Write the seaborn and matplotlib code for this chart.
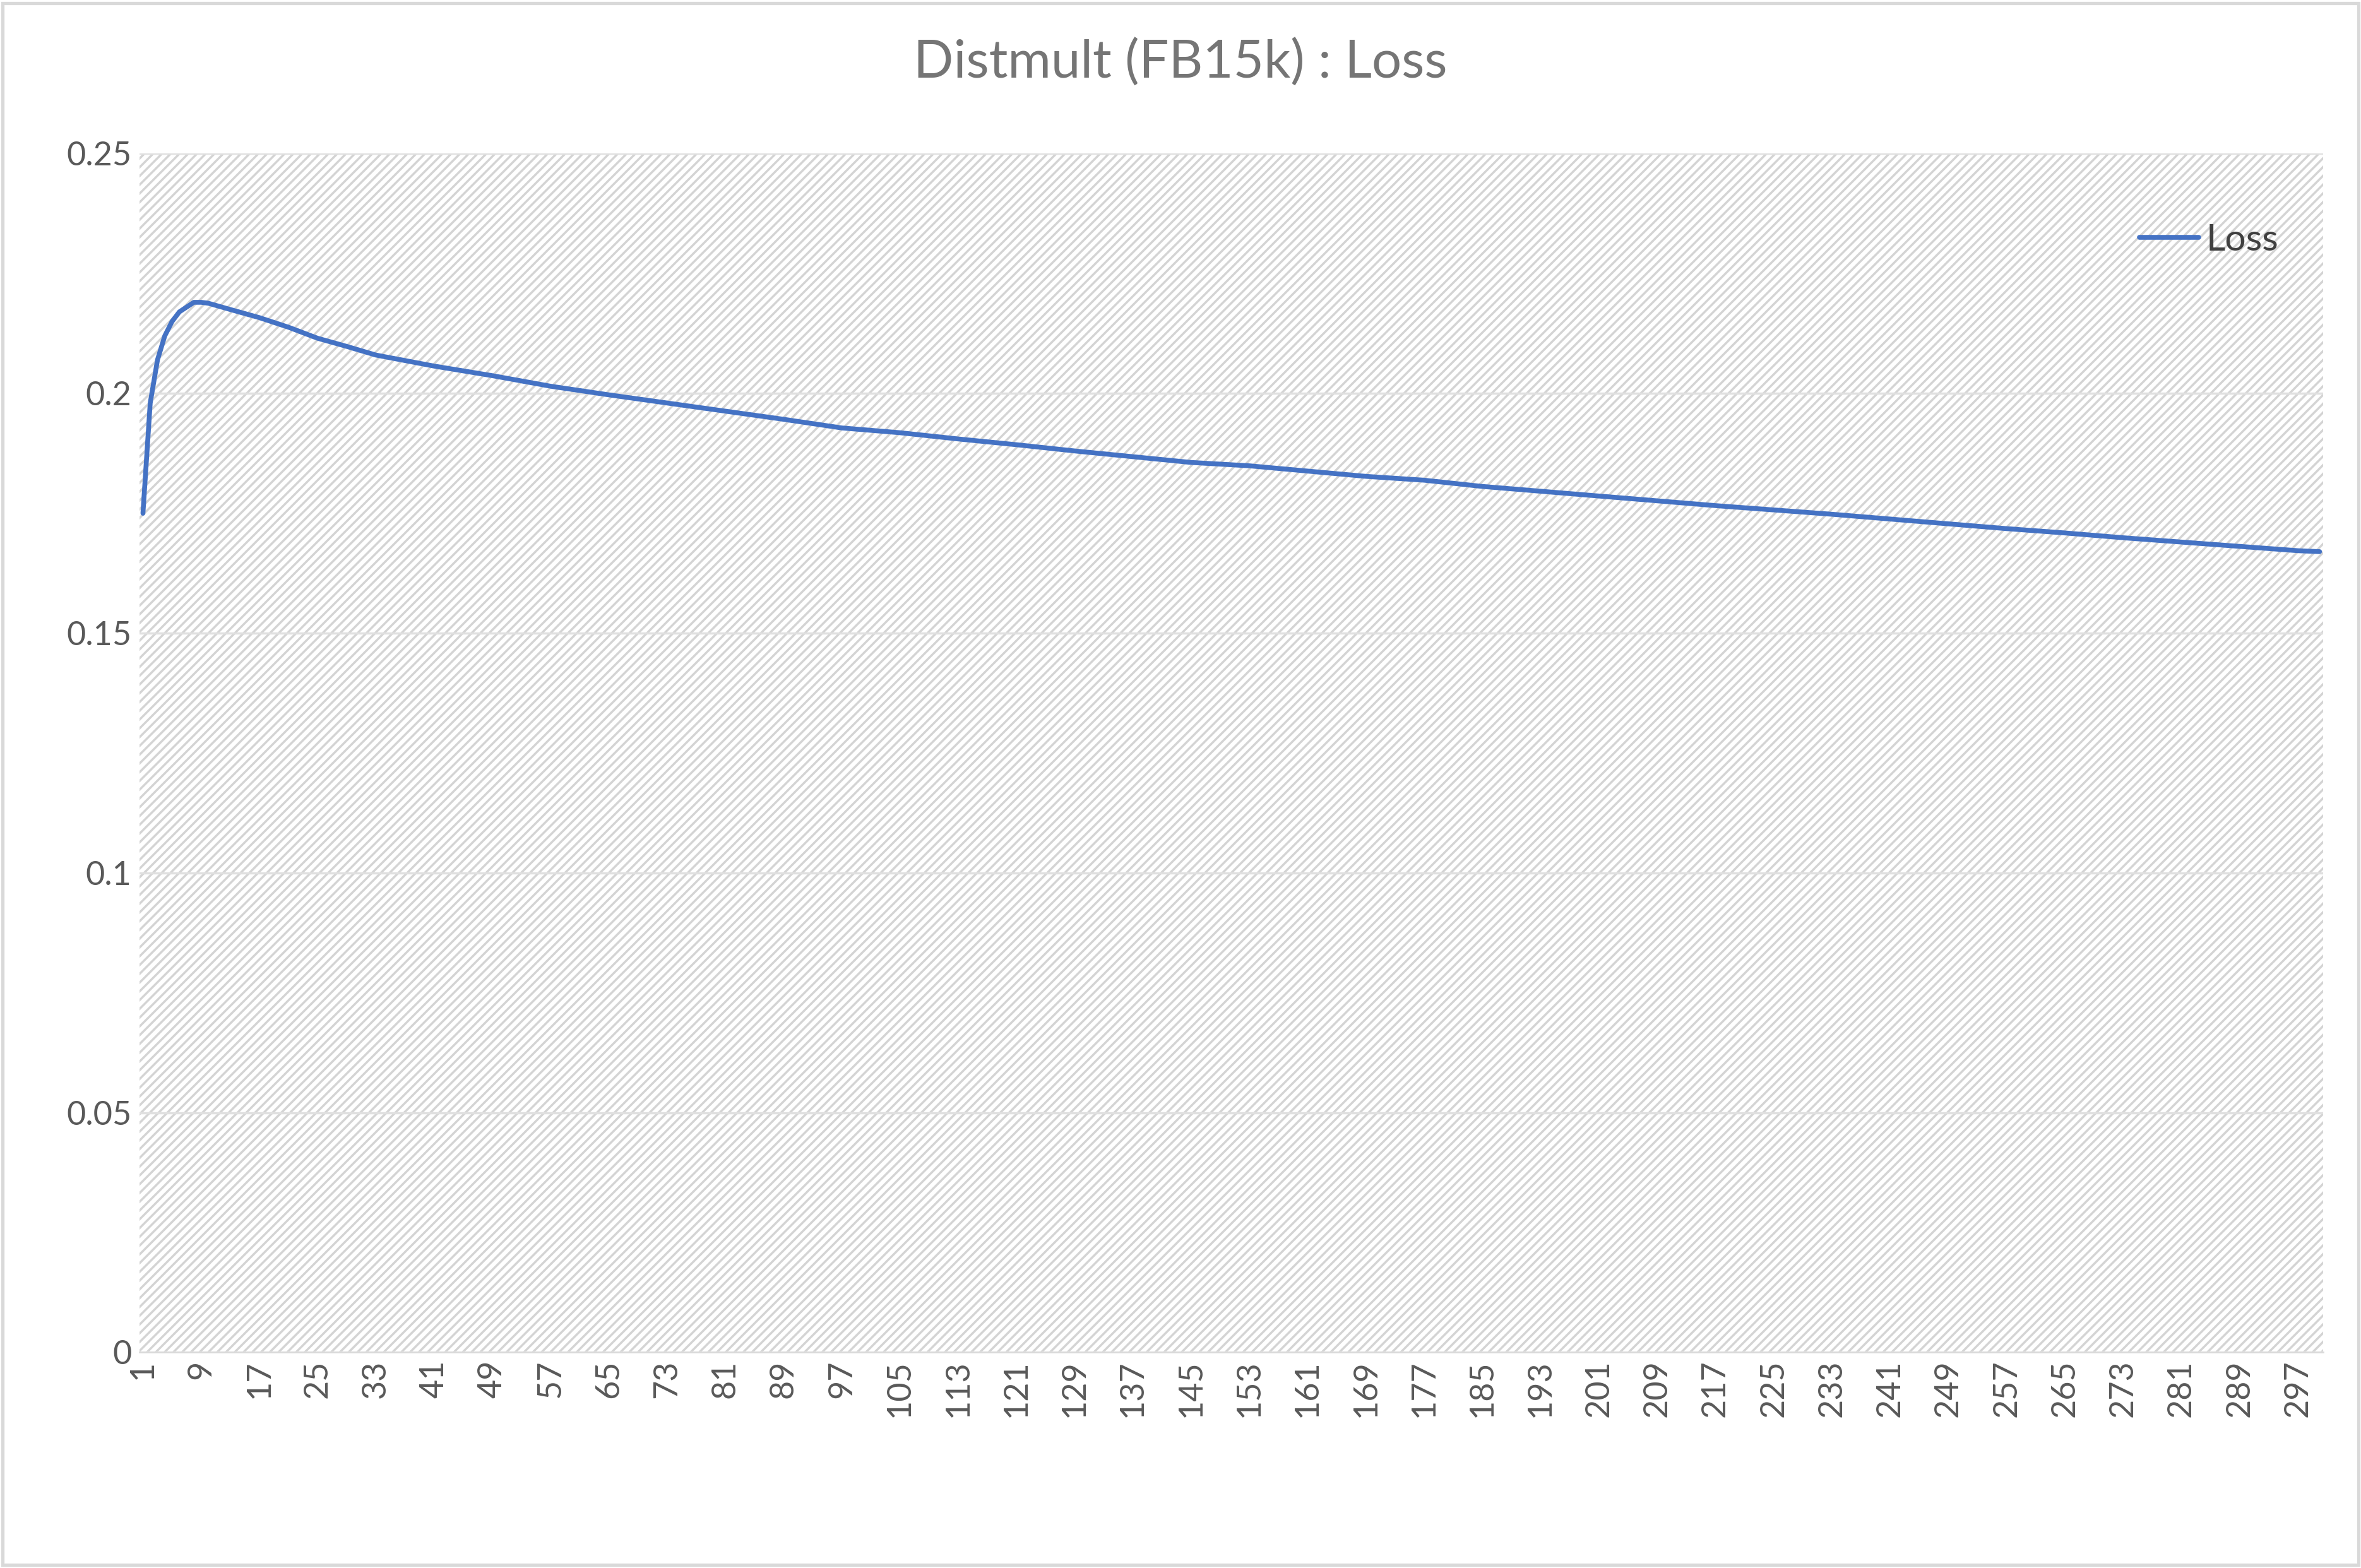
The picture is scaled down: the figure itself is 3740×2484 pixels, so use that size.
import pandas as pd
import matplotlib.pyplot as plt
import seaborn as sns
from matplotlib.patches import Rectangle

epochs = [1, 2, 3, 4, 5, 6, 7, 8, 9, 10, 13, 17, 21, 25, 29, 33, 41, 49, 57, 65, 73, 81,
          89, 97, 105, 113, 121, 129, 137, 145, 153, 161, 169, 177, 185, 193, 201,
          209, 217, 225, 233, 241, 249, 257, 265, 273, 281, 289, 297, 300]
loss = [0.175, 0.198, 0.207, 0.212, 0.215, 0.217, 0.218, 0.219, 0.219, 0.2188, 0.2175,
        0.2158, 0.2138, 0.2115, 0.2098, 0.2080, 0.2057, 0.2037, 0.2015, 0.1997, 0.1980,
        0.1963, 0.1946, 0.1928, 0.1918, 0.1905, 0.1893, 0.1880, 0.1868, 0.1856, 0.1849,
        0.1838, 0.1827, 0.1819, 0.1806, 0.1796, 0.1786, 0.1776, 0.1766, 0.1757, 0.1748,
        0.1738, 0.1728, 0.1718, 0.1709, 0.1699, 0.1690, 0.1681, 0.1672, 0.1670]
tick_epochs = list(range(1, 298, 8))

df = pd.DataFrame({'Epoch': epochs, 'Loss': loss})

sns.set_style('white')
plt.rcParams['font.family'] = ['Lato', 'DejaVu Sans']

fig = plt.figure(figsize=(14.96, 9.936), dpi=250)
ax = fig.add_axes([0.059, 0.1375, 0.925, 0.7645])

# hatched background like the Excel plot area
ax.add_patch(Rectangle((0, 0), 1, 1, transform=ax.transAxes, facecolor='white',
                       edgecolor='#d4d4d4', hatch='//////', linewidth=0, zorder=0))
plt.rcParams['hatch.linewidth'] = 0.6

sns.lineplot(data=df, x='Epoch', y='Loss', color='#4472C4', linewidth=2.2, label='Loss', ax=ax, zorder=3)

ax.set_xlim(0.5, 300.5)
ax.set_ylim(0, 0.25)
ax.set_yticks([0, 0.05, 0.1, 0.15, 0.2, 0.25])
ax.set_yticklabels(['0', '0.05', '0.1', '0.15', '0.2', '0.25'])
ax.set_xticks(tick_epochs)
ax.set_xticklabels([str(t) for t in tick_epochs], rotation=90)
ax.tick_params(axis='both', labelsize=15, labelcolor='#595959', length=0)
ax.yaxis.grid(True, color='#e0e0e0', linewidth=1, zorder=1)
ax.set_axisbelow(False)
for s in ['top', 'right', 'left']:
    ax.spines[s].set_visible(False)
ax.spines['bottom'].set_color('#d9d9d9')
ax.set_xlabel('')
ax.set_ylabel('')

leg = ax.legend(loc='upper right', frameon=False, fontsize=17, handlelength=1.6,
                handletextpad=0.2, bbox_to_anchor=(0.995, 0.97))
for t in leg.get_texts():
    t.set_color('#404040')

fig.suptitle('Distmult (FB15k) : Loss', fontsize=24, color='#757575', y=0.975)
fig.patches.append(Rectangle((0.001, 0.002), 0.998, 0.996, transform=fig.transFigure,
                             fill=False, edgecolor='#d9d9d9', linewidth=1.5))

fig.savefig('out.png', dpi=250)
